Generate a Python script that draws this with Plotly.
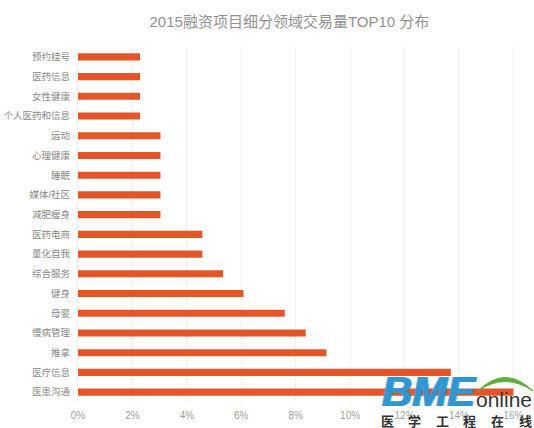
import plotly.graph_objects as go

title = '2015融资项目细分领域交易量TOP10 分布'
categories = ['医患沟通', '医疗信息', '推拿', '慢病管理', '母婴', '健身', '综合服务', '量化自我', '医药电商',
              '减肥瘦身', '媒体/社区', '睡眠', '心理健康', '运动', '个人医药和信息', '女性健康', '医药信息', '预约挂号']
values = [16.0, 13.7, 9.13, 8.37, 7.6, 6.08, 5.33, 4.57, 4.57, 3.03, 3.03, 3.03, 3.03, 3.03, 2.28, 2.28, 2.28, 2.28]
x_ticks = [0, 2, 4, 6, 8, 10, 12, 14, 16]
x_labels = ['0%', '2%', '4%', '6%', '8%', '10%', '12%', '14%', '16%']
logo_chars = ['医', '学', '工', '程', '在', '线']

font_name = 'Liberation Sans, Noto Sans CJK SC'
W, H = 534, 428
L, R, T, B = 78, 7, 47, 26


def px(x):
    return (x - L) / (W - L - R)


def py(y):
    return (H - B - y) / (H - T - B)


fig = go.Figure()
fig.add_trace(go.Bar(y=categories, x=values, orientation='h', width=0.36,
                     marker=dict(color='#e2562a', line_width=0)))

fig.update_layout(
    width=W, height=H, margin=dict(l=L, r=R, t=T, b=B),
    paper_bgcolor='white', plot_bgcolor='white', showlegend=False,
    font=dict(family=font_name, color='#8a8a8a', size=10),
    title=dict(text=title, x=0.542, xanchor='center', y=0.949, yanchor='middle',
               font=dict(size=15, color='#929292', family=font_name)),
)
fig.update_xaxes(range=[0, 16.5], tickvals=x_ticks, ticktext=x_labels, showgrid=True,
                 gridcolor='#efefef', gridwidth=1, zeroline=False, showline=False, ticks='',
                 automargin=False, ticklabelstandoff=6, tickfont=dict(size=10, color='#a0a0a0'))
fig.update_yaxes(categoryorder='array', categoryarray=categories, showgrid=False,
                 zeroline=False, showline=True, linecolor='#efefef', ticks='', ticklen=0,
                 automargin=False, ticklabelstandoff=5, tickfont=dict(size=9.5, color='#888888'))

# BME online watermark, bottom right
arc = 'M {} {} Q {} {} {} {} Q {} {} {} {} Z'.format(
    px(478), py(391), px(505), py(364), px(533), py(391), px(505), py(372), px(478), py(391))
fig.add_shape(type='path', xref='paper', yref='paper', line=dict(color='#5fae3c', width=1),
              fillcolor='#5fae3c', path=arc)
fig.add_annotation(text='<b><i>BME</i></b>', xref='paper', yref='paper', x=px(380), y=py(391),
                   xanchor='left', yanchor='middle', showarrow=False,
                   font=dict(size=42, color='rgba(48,150,210,0.92)', family='Liberation Sans',
                             shadow='1px 0 0 rgba(48,150,210,0.9), -1px 0 0 rgba(48,150,210,0.9)'))
fig.add_annotation(text='online', xref='paper', yref='paper', x=px(534), y=py(399),
                   xanchor='right', yanchor='middle', showarrow=False,
                   font=dict(size=21, color='#333333', family='Liberation Sans'))
for i, ch in enumerate(logo_chars):
    fig.add_annotation(text='<b>' + ch + '</b>', xref='paper', yref='paper', x=px(387 + 27.6 * i), y=py(420),
                       xanchor='center', yanchor='middle', showarrow=False,
                       font=dict(size=13, color='#333333', family='Noto Sans CJK SC'))

fig.write_html('out.html', config=dict(displayModeBar=False),
               post_script="document.body.style.margin='0'; document.documentElement.style.overflow='hidden';")
